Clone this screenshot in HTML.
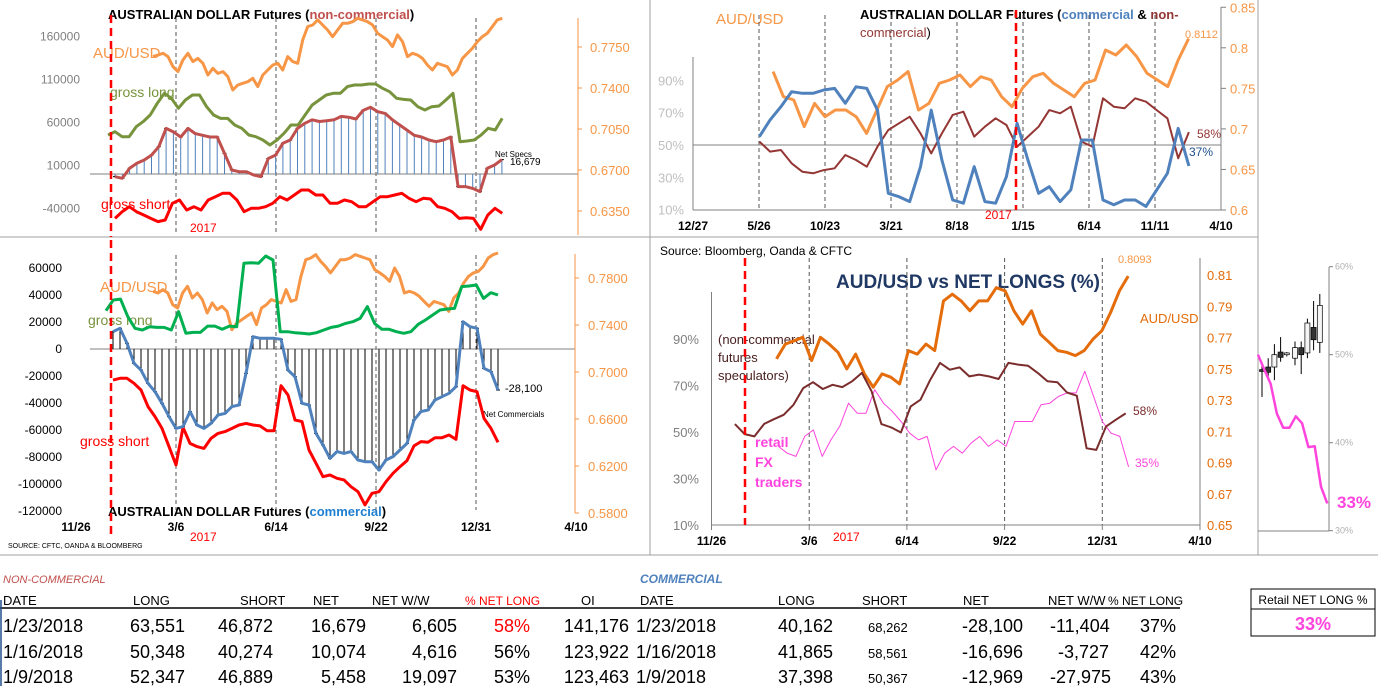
<!DOCTYPE html>
<html><head><meta charset="utf-8"><style>
body{margin:0;background:#fff;}
svg{display:block;font-family:"Liberation Sans",sans-serif;}
</style></head><body>
<svg id="s" width="1378" height="686" viewBox="0 0 1378 686" xmlns="http://www.w3.org/2000/svg">
<g id="frames" stroke="#a0a0a0" stroke-width="1">
<line x1="0" y1="237" x2="1258" y2="237"/><line x1="650" y1="0" x2="650" y2="555"/><line x1="1258" y1="0" x2="1258" y2="555"/><line x1="0" y1="555" x2="1378" y2="555"/>
</g>
<text x="108" y="19" font-size="13" font-weight="bold">AUSTRALIAN DOLLAR Futures (<tspan fill="#c0504d">non-commercial</tspan>)</text>
<text x="93" y="58" font-size="15" fill="#f79646">AUD/USD</text>
<text x="110" y="97" font-size="14" fill="#77933c">gross long</text>
<text x="101" y="209" font-size="14" fill="#ff0000">gross short</text>
<text x="190" y="232" font-size="12" fill="#ff0000">2017</text>
<text x="495" y="157" font-size="8">Net Specs</text>
<text x="510" y="165" font-size="10">16,679</text>
<text x="100" y="292" font-size="15" fill="#f79646">AUD/USD</text>
<text x="88" y="325" font-size="14" fill="#77933c">gross long</text>
<text x="80" y="446" font-size="14" fill="#ff0000">gross short</text>
<text x="505" y="392" font-size="11">-28,100</text>
<text x="483" y="417" font-size="8">Net Commercials</text>
<text x="108" y="516" font-size="13" font-weight="bold">AUSTRALIAN DOLLAR  Futures (<tspan fill="#1f7fd0">commercial</tspan>)</text>
<text x="190" y="541" font-size="12" fill="#ff0000">2017</text>
<text x="8" y="548" font-size="7">SOURCE: CFTC, OANDA &amp; BLOOMBERG</text>
<text x="716" y="24" font-size="15" fill="#f79646">AUD/USD</text>
<text x="860" y="19" font-size="13" font-weight="bold">AUSTRALIAN DOLLAR Futures (<tspan fill="#4f81bd">commercial</tspan> &amp; <tspan fill="#943634">non-</tspan></text>
<text x="860" y="37" font-size="13" fill="#943634">commercial<tspan fill="#000">)</tspan></text>
<text x="1185" y="38" font-size="11" fill="#f79646">0.8112</text>
<text x="1197" y="138" font-size="12" fill="#943634">58%</text>
<text x="1189" y="156" font-size="12" fill="#1f4e8c">37%</text>
<text x="985" y="219" font-size="12" fill="#ff0000">2017</text>
<text x="660" y="255" font-size="12">Source: Bloomberg, Oanda &amp; CFTC</text>
<text x="836" y="288" font-size="19" font-weight="bold" fill="#1f3864">AUD/USD vs NET LONGS (%)</text>
<text x="1118" y="263" font-size="11" fill="#f79646">0.8093</text>
<text x="1140" y="323" font-size="13" fill="#e46c0a">AUD/USD</text>
<g font-size="13" fill="#4a2020"><text x="718" y="344">(non-commercial</text><text x="718" y="362">futures</text><text x="718" y="380">speculators)</text></g>
<g font-size="14" font-weight="bold" fill="#ff44dd"><text x="755" y="447">retail</text><text x="755" y="467">FX</text><text x="755" y="487">traders</text></g>
<text x="1133" y="415" font-size="12" fill="#7b2c2c">58%</text>
<text x="1135" y="467" font-size="12" fill="#ff44dd">35%</text>
<text x="833" y="541" font-size="12" fill="#ff0000">2017</text>
<text x="1337" y="508" font-size="17" font-weight="bold" fill="#ff44dd">33%</text>
<g>
<text x="3" y="583" font-size="11" font-style="italic" fill="#c0504d">NON-COMMERCIAL</text>
<text x="640" y="583" font-size="12" font-style="italic" font-weight="bold" fill="#4f81bd">COMMERCIAL</text>
<line x1="0" y1="608" x2="1180" y2="608" stroke="#000" stroke-width="1.5"/>
<line x1="1" y1="600" x2="1" y2="686" stroke="#1f4e8c" stroke-width="1.5"/>
<g font-size="13">
<text x="3" y="605">DATE</text><text x="133" y="605">LONG</text><text x="240" y="605">SHORT</text><text x="313" y="605">NET</text><text x="372" y="605">NET W/W</text><text x="465" y="605" fill="#ff0000" font-size="12">% NET LONG</text><text x="581" y="605">OI</text>
<text x="640" y="605">DATE</text><text x="778" y="605">LONG</text><text x="862" y="605">SHORT</text><text x="963" y="605">NET</text><text x="1048" y="605">NET W/W</text><text x="1108" y="605" font-size="12">% NET LONG</text>
</g>
<g font-size="18">
<g><text x="3" y="632">1/23/2018</text><text x="130" y="632">63,551</text><text x="218" y="632">46,872</text><text x="366" y="632" text-anchor="end">16,679</text><text x="457" y="632" text-anchor="end">6,605</text><text x="530" y="632" text-anchor="end" fill="#ff0000">58%</text><text x="629" y="632" text-anchor="end">141,176</text><text x="636" y="632">1/23/2018</text><text x="778" y="632">40,162</text><text x="868" y="632" font-size="13">68,262</text><text x="962" y="632">-28,100</text><text x="1050" y="632">-11,404</text><text x="1176" y="632" text-anchor="end">37%</text></g>
<g><text x="3" y="658">1/16/2018</text><text x="130" y="658">50,348</text><text x="218" y="658">40,274</text><text x="366" y="658" text-anchor="end">10,074</text><text x="457" y="658" text-anchor="end">4,616</text><text x="530" y="658" text-anchor="end">56%</text><text x="629" y="658" text-anchor="end">123,922</text><text x="636" y="658">1/16/2018</text><text x="778" y="658">41,865</text><text x="868" y="658" font-size="13">58,561</text><text x="962" y="658">-16,696</text><text x="1058" y="658">-3,727</text><text x="1176" y="658" text-anchor="end">42%</text></g>
<g><text x="3" y="683">1/9/2018</text><text x="130" y="683">52,347</text><text x="218" y="683">46,889</text><text x="366" y="683" text-anchor="end">5,458</text><text x="457" y="683" text-anchor="end">19,097</text><text x="530" y="683" text-anchor="end">53%</text><text x="629" y="683" text-anchor="end">123,463</text><text x="636" y="683">1/9/2018</text><text x="778" y="683">37,398</text><text x="868" y="683" font-size="13">50,367</text><text x="962" y="683">-12,969</text><text x="1050" y="683">-27,975</text><text x="1176" y="683" text-anchor="end">43%</text></g>
</g>
</g>
<g>
<rect x="1251" y="589" width="124" height="47" fill="none" stroke="#000" stroke-width="1"/>
<line x1="1251" y1="609" x2="1375" y2="609" stroke="#000" stroke-width="1"/>
<text x="1313" y="604" font-size="12" text-anchor="middle">Retail NET LONG %</text>
<text x="1313" y="630" font-size="18" font-weight="bold" fill="#ff44dd" text-anchor="middle">33%</text>
</g>
</svg>
<script>
const tlNet=[-3.1,-5,6.6,12.4,16.3,22,31.8,53,49,43,53,47,45,43,43,24,4.7,2.7,2.7,-1.2,-3,18,22,35.7,39.5,53,59,63,61,62,63,67,66,64,74,77.5,72.5,70.5,63,57,51,45,43,39.5,37.6,39.5,43,-14.7,-14.7,-16.7,-20.5,6.6,10.5,16.7];
const tlLong=[45.3,49.2,43.4,43.4,55,60.9,68.6,82.2,93.8,88,76.4,86,91.9,91.9,78.3,68.6,64.7,64.7,57,53.1,45.3,43.4,39.5,33.7,39.5,47.3,57,57,68.6,80.2,86,91.9,93.8,93.8,101.6,103.5,103.5,104.7,104.7,99.6,95.7,88,86.8,86,78.3,74.4,78.3,79.1,86,93.8,37.6,38.4,39.5,45.3,53.1,51.2,64.7];
const tlShort=[-51.6,-43.8,-38,-43.8,-47.7,-51.6,-55.4,-53.5,-34.1,-30.2,-41.9,-38,-41.9,-30.2,-26.4,-22.5,-22.5,-30.2,-43.8,-39.9,-39.9,-38,-34.1,-26.4,-30.2,-24.4,-18.6,-18.6,-24.4,-24.4,-34.1,-34.1,-30.2,-32.2,-38,-38,-32.2,-26.4,-26.4,-24.4,-22.5,-28.3,-32.2,-28.3,-29.1,-38,-39.9,-43.8,-51.6,-50.8,-51.6,-64.3,-47.7,-39.9,-45.7];
const tlAud=[0.7668,0.7682,0.7696,0.7668,0.7582,0.7540,0.7639,0.7696,0.7625,0.7653,0.7611,0.7511,0.7568,0.7525,0.7540,0.7497,0.7383,0.7426,0.7440,0.7454,0.7483,0.7412,0.7511,0.7554,0.7596,0.7611,0.7554,0.7668,0.7625,0.7611,0.7810,0.7924,0.7938,0.7981,0.7938,0.7895,0.7838,0.7895,0.7952,0.7952,0.7966,0.7995,0.7981,0.7966,0.7938,0.7867,0.7838,0.7810,0.7753,0.7853,0.7796,0.7668,0.7696,0.7682,0.7653,0.7596,0.7554,0.7611,0.7596,0.7582,0.7511,0.7554,0.7653,0.7696,0.7739,0.7796,0.7838,0.7867,0.7924,0.7981,0.7995];
const tlLeftTicks=[160000,110000,60000,10000,-40000];
const tlRightTicks=[0.7750,0.7400,0.7050,0.6700,0.6350];
const blNet=[12.8,15.3,4.2,-10.6,-15.6,-25.4,-31.6,-40.2,-50.1,-58.8,-57.5,-46.4,-56.3,-58.8,-55.1,-48.9,-47.7,-42.7,-41.5,-18,9.1,7.9,7.9,7.9,7.2,-15.6,-20.5,-40.2,-41.5,-62.5,-71.1,-81,-76,-77.3,-76,-82.2,-83.5,-83.5,-89.6,-82.2,-79.7,-74.8,-69.9,-52.6,-46.4,-45.2,-37.8,-35.3,-32.8,-27.9,20.2,16.5,15.3,-14.3,-16.8,-30.4];
const blLong=[28.4,36.3,37,23.9,15.3,14.1,16.5,16,16,14.1,27.7,11.6,12.3,12.3,17,17,14.6,17,16.5,63.5,63.9,63.5,68.9,65.9,12.8,12.8,12.1,11.6,11.1,12.1,14.1,16,17,19,20.2,22.7,31.4,19,14.6,14.6,12.8,11.6,12.8,18.3,21.5,25.2,28.9,29.6,30.1,46.2,46.7,47.4,37.5,41.7,40];
const blShort=[-23,-21.7,-21.7,-25.4,-30.4,-42.7,-50.1,-58.8,-72.3,-85.9,-58,-69.9,-72.3,-73.6,-66.2,-62.5,-61.2,-58.8,-56.3,-55.1,-56.3,-57,-60.5,-60.5,-27.2,-34.1,-52.6,-53.8,-74.8,-84.7,-94.6,-93.3,-95.8,-97,-102,-105.7,-115.5,-106.9,-105.7,-98.3,-92.1,-87.2,-82.7,-71.8,-68.6,-69.1,-65.7,-65.7,-63.7,-66.9,-27.2,-30.4,-31.6,-51.4,-58.8,-69.1];
const blAud=[0.7687,0.7672,0.7701,0.7672,0.7573,0.7545,0.7672,0.7729,0.7630,0.7672,0.7616,0.7502,0.7587,0.7531,0.7559,0.7516,0.7360,0.7417,0.7445,0.7474,0.7502,0.7403,0.7545,0.7573,0.7616,0.7601,0.7587,0.7701,0.7601,0.7616,0.7814,0.7956,0.7970,0.7999,0.7942,0.7899,0.7843,0.7899,0.7956,0.7956,0.7970,0.7999,0.7985,0.7970,0.7956,0.7871,0.7843,0.7814,0.7772,0.7885,0.7814,0.7672,0.7687,0.7672,0.7644,0.7601,0.7559,0.7601,0.7587,0.7573,0.7516,0.7630,0.7672,0.7757,0.7814,0.7843,0.7857,0.7899,0.7970,0.7999,0.8013];
const blLeftTicks=[60000,40000,20000,0,-20000,-40000,-60000,-80000,-100000,-120000];
const blRightTicks=[0.78,0.74,0.70,0.66,0.62,0.58];
const leftDates=['11/26','3/6','6/14','9/22','12/31','4/10'];
const trComm=[55.2,65.5,73.7,83,82,82,84,85,75.8,86,85,71.6,20.1,18,15,36.6,71.6,40.7,16,14,36.6,15,14,30.4,63.4,40.7,20.1,24.2,15,22.2,53.1,53.1,16,13,16,16,12,22.2,32.5,60.3,37];
const trNon=[52.1,45.9,46.9,38.7,33.5,32.5,34.5,35.6,43.8,40.7,36.6,49,59.3,63.4,67.5,57.2,44.8,57.2,68.6,70.6,55.2,61.3,66.5,62.4,49,55.2,61.3,71.6,69.6,73.7,52.1,49,78.9,73.7,72.7,78.9,76.8,71.6,66.5,41.8,58];
const trAud=[0.7706,0.7397,0.7356,0.7028,0.7315,0.7151,0.7233,0.7233,0.7151,0.6945,0.7233,0.7521,0.7603,0.7706,0.7233,0.7315,0.7562,0.7603,0.7665,0.7521,0.7644,0.7603,0.7397,0.7274,0.75,0.7644,0.7685,0.7562,0.748,0.7397,0.7562,0.7603,0.7973,0.7911,0.8035,0.7891,0.7685,0.7603,0.7521,0.785,0.8112];
const trLeftTicks=[90,70,50,30,10];
const trRightTicks=[0.85,0.8,0.75,0.7,0.65,0.6];
const trDates=['12/27','5/26','10/23','3/21','8/18','1/15','6/14','11/11','4/10'];
const brNon=[53.4,49.1,48.1,53.5,55.5,57.4,61.7,68.9,71.4,68.5,70.3,69.3,71.8,75.4,67.5,53.4,52,49.8,61,63.9,72.5,79.7,76.8,77.8,73.9,74.7,73.9,72.8,79.7,79,78.5,75.4,71.8,71.4,67,65.6,43,42.3,52.4,55.3,58];
const brRetail=[43.8,40.9,39.5,48.1,50.9,39.5,46.6,52.4,62.4,58.1,58.1,68.2,62.4,58.9,54.5,49.5,46.6,48.1,33.7,40.9,43.8,40.9,45.2,48.1,43.8,46.6,43.8,54.5,54.5,54.5,61.7,62.4,65.3,66.8,66.8,76.1,65.3,54.5,49.5,48.1,35];
const brAud=[0.7563,0.7658,0.7679,0.7701,0.7552,0.7701,0.7658,0.7605,0.7499,0.7594,0.7467,0.7382,0.7467,0.7446,0.7403,0.7616,0.7594,0.7658,0.7616,0.7934,0.7977,0.7934,0.7871,0.7934,0.7934,0.8019,0.7998,0.7871,0.7786,0.7871,0.7722,0.7669,0.7616,0.7605,0.7584,0.7616,0.7690,0.7743,0.7860,0.7998,0.8093];
const brLeftTicks=[90,70,50,30,10];
const brRightTicks=[0.81,0.79,0.77,0.75,0.73,0.71,0.69,0.67,0.65];
const brDates=['11/26','3/6','6/14','9/22','12/31','4/10'];
const frRetail=[50,48.3,46.7,43.3,41.7,41.7,43,42.2,39.5,39.6,35,33.1];
const frCandleOpen=[48.3,48.6,48.6,50.3,50.0,49.6,50.8,50.2,53.1,51.4];
const frCandleClose=[48.1,48.0,50.0,49.7,50.2,50.8,50.0,53.6,51.7,55.6];
const frCandleHigh=[48.8,49.6,51.2,52.0,50.3,51.5,51.5,54.1,56.1,56.9];
const frCandleLow=[45.2,47.1,47.1,49.2,49.8,48.8,47.8,49.6,50.5,50.2];
const frTicks=[60,50,40,30];

const NS='http://www.w3.org/2000/svg';
const svg=document.getElementById('s');
function mk(tag,attrs){const e=document.createElementNS(NS,tag);for(const k in attrs)e.setAttribute(k,attrs[k]);svg.appendChild(e);return e;}
const xL=t=>76+t*100;
const tlY=v=>174-v*43/50;
const tlYR=v=>170-(v-0.67)*41/0.035;
const blY=v=>349-v*27/20;
const blYR=v=>372-(v-0.70)*47/0.04;
const xTR=t=>693+t*66;
const trY=p=>145-(p-50)*32.33/20;
const trYR=v=>210-(v-0.6)*811;
const xBR=t=>711.5+t*97.7;
const brY=p=>525-(p-10)*186/80;
const brYR=v=>525-(v-0.65)*1562.5;
const frX=i=>1258+i*6.3;
const frY=p=>530.7-(p-30)*8.8;

function poly(name,vals,t0,dt,xf,yf,color,w){
  const d=vals.map((v,i)=>(i?'L':'M')+xf(t0+i*dt).toFixed(1)+','+yf(v).toFixed(1)).join('');
  const p=mk('path',{d:d,fill:'none',stroke:color,'stroke-width':w,'stroke-linejoin':'round'});
  
  
  return p;
}
function bars(name,vals,t0,dt,xf,yf,color){
  vals.forEach((v,i)=>{
    const x=xf(t0+i*dt);
    const b=mk('line',{x1:x,x2:x,y1:yf(0),y2:yf(v),stroke:color,'stroke-width':1});
    
    
    const m=mk('line',{x1:x-2,x2:x+2,y1:yf(v),y2:yf(v),stroke:'#000','stroke-width':1});
    
    
  });
}
function ln(name,x1,y1,x2,y2,c,w,dash){const l=mk('line',{x1,y1,x2,y2,stroke:c,'stroke-width':w||1});if(dash)l.setAttribute('stroke-dasharray',dash);return l;}
function tx(name,x,y,s,opts){const t=mk('text',{x,y,'font-size':opts.size||12,fill:opts.fill||'#000','text-anchor':opts.anchor||'start'});if(opts.bold)t.setAttribute('font-weight','bold');t.textContent=s;return t;}

[1,2,3,4].forEach(t=>ln('tl-gridline',xL(t),18,xL(t),235,'#555',1,'4,3'));
ln('tl-zero-line',90,tlY(0),578,tlY(0),'#808080',1);
ln('tl-right-axis',578,18,578,235,'#f79646',1);
tlLeftTicks.forEach(v=>tx('tl-left-tick',80,tlY(v/1000)+4,String(v),{size:12,fill:'#808080',anchor:'end'}));
tlRightTicks.forEach(v=>{ln('tl-right-tickmark',578,tlYR(v),582,tlYR(v),'#f79646',1);tx('tl-right-tick',590,tlYR(v)+5,v.toFixed(4),{size:13,fill:'#f79646'});});
bars('tl-net-bar',tlNet,0.39,0.073,xL,tlY,'#4f81bd');
poly('tl-aud-line',tlAud,0.77,0.0499,xL,tlYR,'#f79646',3);
poly('tl-gross-long-line',tlLong,0.32,0.0704,xL,tlY,'#77933c',3);
poly('tl-gross-short-line',tlShort,0.39,0.0717,xL,tlY,'#ff0000',3);
poly('tl-net-line',tlNet,0.39,0.073,xL,tlY,'#c0504d',3);
ln('tl-2017-marker',111,15,111,237,'#ff0000',2.5,'8,5');

[1,2,3,4].forEach(t=>ln('bl-gridline',xL(t),255,xL(t),510,'#555',1,'4,3'));
ln('bl-zero-line',90,blY(0),575,blY(0),'#808080',1);
ln('bl-right-axis',575,254,575,513,'#f79646',1);
blLeftTicks.forEach(v=>tx('bl-left-tick',62,blY(v/1000)+4,String(v),{size:12,fill:'#000',anchor:'end'}));
blRightTicks.forEach(v=>{ln('bl-right-tickmark',575,blYR(v),579,blYR(v),'#f79646',1);tx('bl-right-tick',588,blYR(v)+5,v.toFixed(4),{size:13,fill:'#f79646'});});
leftDates.forEach((d,i)=>tx('bl-x-tick',xL(i),531,d,{size:12,bold:true,anchor:'middle'}));
bars('bl-net-bar',blNet,0.37,0.07,xL,blY,'#000');
poly('bl-aud-line',blAud,0.77,0.0493,xL,blYR,'#f79646',3);
poly('bl-gross-long-line',blLong,0.30,0.0726,xL,blY,'#00b050',3);
poly('bl-gross-short-line',blShort,0.37,0.07,xL,blY,'#ff0000',3);
poly('bl-net-line',blNet,0.37,0.07,xL,blY,'#4f81bd',3);
ln('bl-2017-marker',111,240,111,535,'#ff0000',2.5,'8,5');

[1,2,3,4,5,6,7].forEach(t=>ln('tr-gridline',xTR(t),15,xTR(t),210,'#555',1,'4,3'));
ln('tr-left-axis',693,57,693,210,'#808080',1);
ln('tr-x-axis',693,210,1221,210,'#808080',1);
ln('tr-right-axis',1221,7,1221,210,'#808080',1);
ln('tr-50-line',693,trY(50),1221,trY(50),'#808080',1);
trLeftTicks.forEach(v=>tx('tr-left-tick',684,trY(v)+5,v+'%',{size:13,fill:'#bfbfbf',anchor:'end'}));
trRightTicks.forEach(v=>{ln('tr-right-tickmark',1221,trYR(v),1226,trYR(v),'#808080',1);tx('tr-right-tick',1230,trYR(v)+5,String(v),{size:13,fill:'#f79646'});});
trDates.forEach((d,i)=>tx('tr-x-tick',xTR(i),230,d,{size:12,bold:true,anchor:'middle'}));
poly('tr-aud-line',trAud,1.213,0.1574,xTR,trYR,'#f79646',3);
poly('tr-noncomm-line',trNon,1.006,0.1627,xTR,trY,'#943634',2);
poly('tr-comm-line',trComm,1.006,0.1627,xTR,trY,'#4f81bd',3);
ln('tr-2017-marker',1016,10,1016,210,'#ff0000',2.5,'8,5');

[1,2,3,4].forEach(t=>ln('br-gridline',xBR(t),258,xBR(t),525,'#555',1,'4,3'));
ln('br-left-axis',711.5,292,711.5,525,'#808080',1);
ln('br-x-axis',711.5,525,1200,525,'#808080',1);
ln('br-right-axis',1200,258,1200,525,'#808080',1);
brLeftTicks.forEach(v=>tx('br-left-tick',699,brY(v)+5,v+'%',{size:13,fill:'#808080',anchor:'end'}));
brRightTicks.forEach(v=>tx('br-right-tick',1207,brYR(v)+5,v.toFixed(2),{size:13,fill:'#e46c0a'}));
brDates.forEach((d,i)=>{ln('br-x-tickmark',xBR(i),525,xBR(i),530,'#808080',1);tx('br-x-tick',xBR(i),545,d,{size:12,bold:true,anchor:'middle'});});
poly('br-retail-line',brRetail,0.685,0.0896,xBR,brY,'#ff44dd',1);
poly('br-aud-line',brAud,0.665,0.09,xBR,brYR,'#e46c0a',3);
poly('br-noncomm-line',brNon,0.239,0.1,xBR,brY,'#7b2c2c',2);
ln('br-2017-marker',745,258,745,525,'#ff0000',2.5,'8,5');

ln('fr-y-axis',1329,267,1329,531,'#808080',1);
ln('fr-x-axis',1258,531,1329,531,'#808080',1);
frTicks.forEach(v=>{ln('fr-tickmark',1329,frY(v),1333,frY(v),'#808080',1);tx('fr-y-tick',1335,frY(v)+3,v+'%',{size:9,fill:'#b0b0b0'});});
frCandleOpen.forEach((o,i)=>{
  const c=frCandleClose[i],x=1262+i*6.2+2*(i>4?1:0);
  ln('fr-candle-wick',x,frY(frCandleHigh[i]),x,frY(frCandleLow[i]),'#000',1);
  const r=mk('rect',{x:x-2.5,y:frY(Math.max(o,c)),width:5,height:Math.max(1,Math.abs(frY(o)-frY(c))),fill:o>c?'#333':'#f5f5f5',stroke:'#000','stroke-width':0.7});
  
  
});
poly('fr-retail-line',frRetail,0,1,frX,frY,'#ff44dd',2.5);
</script>
</body></html>
